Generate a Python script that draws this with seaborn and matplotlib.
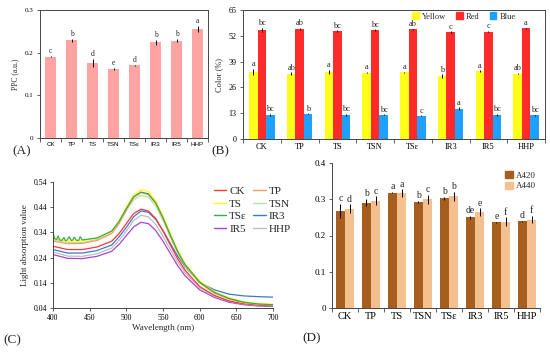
import matplotlib
matplotlib.use("Agg")

import numpy as np
import pandas as pd
import seaborn as sns
import matplotlib.pyplot as plt
from matplotlib.patches import Patch
from matplotlib.lines import Line2D

# ---- data ----
groups = ["CK", "TP", "TS", "TSN", "TSε", "IR3", "IR5", "HHP"]

# (A) PPC
ppc = [0.191, 0.229, 0.176, 0.162, 0.170, 0.224, 0.228, 0.255]
ppc_err = [0.001, 0.003, 0.010, 0.003, 0.001, 0.005, 0.004, 0.007]
ppc_letters = ["c", "b", "d", "e", "d", "b", "b", "a"]

# (B) colour
yellow = [33.8, 32.8, 34.0, 33.5, 33.7, 31.5, 34.2, 33.0]
red = [54.9, 55.3, 54.4, 54.9, 55.3, 53.9, 54.1, 55.8]
blue = [12.2, 12.7, 12.2, 12.2, 11.7, 15.2, 12.2, 11.9]
yellow_err = [1.5, 0.8, 1.0, 0.4, 0.3, 1.0, 0.4, 0.4]
red_err = [1.2, 0.6, 0.3, 0.3, 0.3, 0.3, 0.3, 0.3]
blue_err = [0.5, 0.3, 0.6, 0.3, 0.3, 0.8, 0.4, 0.3]
yellow_letters = ["a", "ab", "a", "a", "a", "b", "a", "ab"]
red_letters = ["bc", "ab", "bc", "bc", "ab", "c", "c", "a"]
blue_letters = ["bc", "b", "bc", "bc", "c", "a", "bc", "bc"]

# (C) absorption spectra
wl = [400, 420, 440, 460, 480, 490, 500, 510, 520, 530, 540, 550, 560,
      570, 580, 600, 620, 640, 660, 680, 700]
spec_ck = [0.285, 0.272, 0.272, 0.282, 0.305, 0.335, 0.375, 0.415, 0.432, 0.425, 0.395,
           0.345, 0.290, 0.235, 0.190, 0.125, 0.090, 0.068, 0.057, 0.052, 0.049]
spec_tp = [0.305, 0.295, 0.296, 0.308, 0.335, 0.375, 0.430, 0.478, 0.498, 0.490, 0.455,
           0.395, 0.325, 0.262, 0.210, 0.140, 0.100, 0.076, 0.062, 0.056, 0.053]
spec_ts = [0.318, 0.305, 0.306, 0.318, 0.345, 0.385, 0.440, 0.488, 0.510, 0.502, 0.465,
           0.405, 0.335, 0.270, 0.217, 0.147, 0.105, 0.080, 0.065, 0.058, 0.055]
spec_tsn = [0.310, 0.300, 0.300, 0.312, 0.338, 0.375, 0.425, 0.470, 0.487, 0.480, 0.445,
            0.388, 0.320, 0.258, 0.206, 0.138, 0.098, 0.075, 0.061, 0.055, 0.052]
spec_ir3 = [0.272, 0.258, 0.258, 0.268, 0.290, 0.322, 0.360, 0.402, 0.425, 0.420, 0.392,
            0.348, 0.296, 0.246, 0.203, 0.142, 0.112, 0.095, 0.088, 0.085, 0.083]
spec_hhp = [0.262, 0.246, 0.245, 0.255, 0.278, 0.308, 0.345, 0.387, 0.408, 0.402, 0.372,
            0.325, 0.272, 0.222, 0.180, 0.120, 0.087, 0.067, 0.056, 0.051, 0.049]
spec_ir5 = [0.252, 0.237, 0.236, 0.245, 0.265, 0.292, 0.327, 0.362, 0.380, 0.375, 0.348,
            0.305, 0.256, 0.208, 0.168, 0.112, 0.082, 0.063, 0.053, 0.048, 0.046]
# TSε is noisy below 440 nm, read on its own grid
wl_tse = [400, 402, 405, 407, 409, 412, 415, 417, 419, 422, 425, 427, 429, 432, 435, 437, 440,
          460, 480, 490, 500, 510, 520, 530, 540, 550, 560, 570, 580, 600, 620, 640, 660, 680, 700]
spec_tse = [0.345, 0.315, 0.312, 0.326, 0.310, 0.308, 0.320, 0.307, 0.309, 0.323, 0.308, 0.310,
            0.321, 0.309, 0.308, 0.323, 0.310,
            0.318, 0.345, 0.383, 0.435, 0.482, 0.500, 0.493, 0.458, 0.398, 0.330, 0.265,
            0.213, 0.143, 0.102, 0.078, 0.063, 0.056, 0.053]

# (D) A420 / A440
a420 = [0.267, 0.291, 0.318, 0.293, 0.303, 0.250, 0.236, 0.239]
a440 = [0.274, 0.296, 0.317, 0.300, 0.308, 0.265, 0.238, 0.244]
a420_err = [0.020, 0.010, 0.002, 0.002, 0.004, 0.005, 0.002, 0.002]
a440_err = [0.012, 0.012, 0.010, 0.012, 0.012, 0.010, 0.012, 0.010]
a420_letters = ["c", "b", "a", "b", "b", "de", "e", "d"]
a440_letters = ["d", "c", "a", "c", "b", "e", "f", "f"]

# ---- style ----
sns.set_style("ticks")
plt.rcParams["font.family"] = ["Liberation Serif", "DejaVu Serif"]
plt.rcParams["axes.linewidth"] = 0.7
plt.rcParams["axes.edgecolor"] = "#444444"
plt.rcParams["xtick.color"] = "#444444"
plt.rcParams["ytick.color"] = "#444444"
plt.rcParams["xtick.labelcolor"] = "black"
plt.rcParams["ytick.labelcolor"] = "black"

W, H = 550, 353
fig = plt.figure(figsize=(5.5, 3.53), dpi=100)


def px_axes(x0, y0, x1, y1):
    return fig.add_axes([x0 / W, 1 - y1 / H, (x1 - x0) / W, (y1 - y0) / H])


def cat_ticks(ax, size, family=None):
    ax.set_xlim(-0.5, 7.5)
    ax.set_xticks(range(8))
    ax.set_xticklabels(groups, fontsize=size, family=family)
    ax.set_xticks(np.arange(-0.5, 8.0, 1), minor=True)
    ax.tick_params(axis="x", which="major", length=0, pad=3)
    ax.tick_params(axis="x", which="minor", length=3, width=0.6)
    ax.tick_params(axis="y", length=2.5, width=0.6, pad=2)
    ax.set_xlabel("")


def add_err(ax, container, vals, errs, letters, fs, off):
    for bar, v, e, t in zip(container, vals, errs, letters):
        cx = bar.get_x() + bar.get_width() / 2
        ax.errorbar(cx, v, yerr=e, fmt="none", ecolor="black", elinewidth=0.7, capsize=0)
        ax.text(cx, v + e + off, t, ha="center", va="bottom", fontsize=fs)


# ---- (A) ----
axA = px_axes(40, 10, 208, 138)
dfA = pd.DataFrame({"group": groups, "ppc": ppc})
sns.barplot(data=dfA, x="group", y="ppc", color="#FFA3A3", saturation=1,
            width=0.52, errorbar=None, linewidth=0, ax=axA)
add_err(axA, axA.containers[0], ppc, ppc_err, ppc_letters, 5.5, 0.002)
axA.set_ylim(0, 0.3)
axA.set_yticks([0, 0.1, 0.2, 0.3])
axA.set_yticklabels(["0", "0.1", "0.2", "0.3"], fontsize=5)
axA.set_ylabel("PPC (a.u.)", fontsize=5.5, labelpad=4)
cat_ticks(axA, 4.5, family=["Liberation Sans", "DejaVu Sans"])

# ---- (B) ----
axB = px_axes(243, 10, 545, 139)
dfB = pd.DataFrame({
    "group": groups * 3,
    "value": yellow + red + blue,
    "channel": ["Yellow"] * 8 + ["Red"] * 8 + ["Blue"] * 8,
})
pal_B = {"Yellow": "#FFFF1A", "Red": "#FF2A2A", "Blue": "#1EA0FF"}
sns.barplot(data=dfB, x="group", y="value", hue="channel", palette=pal_B,
            saturation=1, width=0.67, errorbar=None, legend=False, linewidth=0, ax=axB)
for cont, vals, errs, lets in zip(axB.containers,
                                  [yellow, red, blue],
                                  [yellow_err, red_err, blue_err],
                                  [yellow_letters, red_letters, blue_letters]):
    add_err(axB, cont, vals, errs, lets, 6, 0.3)
axB.set_ylim(0, 65)
axB.set_yticks([0, 13, 26, 39, 52, 65])
axB.set_yticklabels(["0", "13", "26", "39", "52", "65"], fontsize=5.8)
axB.set_ylabel("Color (%)", fontsize=6, labelpad=4)
cat_ticks(axB, 6)
axB.legend(handles=[Patch(color=pal_B[k], label=k) for k in ["Yellow", "Red", "Blue"]],
           loc="upper right", bbox_to_anchor=(0.92, 1.02), ncol=3, frameon=False,
           fontsize=6, handlelength=0.8, handleheight=0.8, handletextpad=0.4,
           columnspacing=1.2, borderaxespad=0.2)

# ---- (C) ----
axC = px_axes(53, 182, 273, 308)
pal_C = {"CK": "#FF3434", "TP": "#FF9A66", "TS": "#FFFF1A", "TSN": "#B5E3A8",
         "TSε": "#3DAA45", "IR3": "#3A78D0", "IR5": "#A446D0", "HHP": "#BDBDBD"}
series = {"CK": spec_ck, "TP": spec_tp, "TS": spec_ts, "TSN": spec_tsn,
          "IR3": spec_ir3, "HHP": spec_hhp, "IR5": spec_ir5}
rows = []
for name, vals in series.items():
    rows += [(w, v, name) for w, v in zip(wl, vals)]
rows += [(w, v, "TSε") for w, v in zip(wl_tse, spec_tse)]
dfC = pd.DataFrame(rows, columns=["wl", "abs", "sample"])
draw_order = ["IR5", "HHP", "IR3", "CK", "TSN", "TP", "TS", "TSε"]
sns.lineplot(data=dfC, x="wl", y="abs", hue="sample", hue_order=draw_order,
             palette=pal_C, linewidth=0.9, legend=False, ax=axC)
axC.set_xlim(400, 700)
axC.set_ylim(0.04, 0.54)
axC.set_xticks([400, 450, 500, 550, 600, 650, 700])
axC.set_xticklabels(["400", "450", "500", "550", "600", "650", "700"], fontsize=5.6)
axC.set_yticks([0.04, 0.14, 0.24, 0.34, 0.44, 0.54])
axC.set_yticklabels(["0.04", "0.14", "0.24", "0.34", "0.44", "0.54"], fontsize=5.6)
axC.tick_params(length=2.5, width=0.6, pad=2)
axC.set_xlabel("Wavelength (nm)", fontsize=6.5, labelpad=1)
axC.set_ylabel("Light absorption value", fontsize=6.5, labelpad=3)
sns.despine(ax=axC)
leg_order = ["CK", "TS", "TSε", "IR5", "TP", "TSN", "IR3", "HHP"]
axC.legend(handles=[Line2D([], [], color=pal_C[k], lw=1.0, label=k) for k in leg_order],
           loc="upper left", bbox_to_anchor=(0.71, 1.0), ncol=2, frameon=False,
           fontsize=8, handlelength=1.1, handletextpad=0.3, columnspacing=0.6,
           labelspacing=0.25, borderaxespad=0)

# ---- (D) ----
axD = px_axes(332, 163, 540, 308)
dfD = pd.DataFrame({
    "group": groups * 2,
    "value": a420 + a440,
    "band": ["A420"] * 8 + ["A440"] * 8,
})
pal_D = {"A420": "#A65E1F", "A440": "#F5C08F"}
sns.barplot(data=dfD, x="group", y="value", hue="band", palette=pal_D,
            saturation=1, width=0.7, errorbar=None, legend=False, linewidth=0, ax=axD)
for cont, vals, errs, lets in zip(axD.containers, [a420, a440],
                                  [a420_err, a440_err], [a420_letters, a440_letters]):
    add_err(axD, cont, vals, errs, lets, 7, 0.002)
axD.set_ylim(0, 0.4)
axD.set_yticks([0, 0.1, 0.2, 0.3, 0.4])
axD.set_yticklabels(["0", "0.1", "0.2", "0.3", "0.4"], fontsize=6.5)
axD.set_ylabel("")
cat_ticks(axD, 7.5)
sns.despine(ax=axD)
axD.legend(handles=[Patch(color=pal_D[k], label=k) for k in ["A420", "A440"]],
           loc="upper right", bbox_to_anchor=(1.0, 0.97), frameon=False,
           fontsize=6.5, handlelength=0.9, handleheight=0.9, handletextpad=0.4,
           labelspacing=0.2, borderaxespad=0)

# ---- panel labels ----
for x, y, t in [(12, 151, "(A)"), (211, 151, "(B)"), (3, 340, "(C)"), (302, 338, "(D)")]:
    fig.text(x / W, 1 - y / H, t, fontsize=9.5, va="center", ha="left")

fig.savefig("out.png", dpi=100)
